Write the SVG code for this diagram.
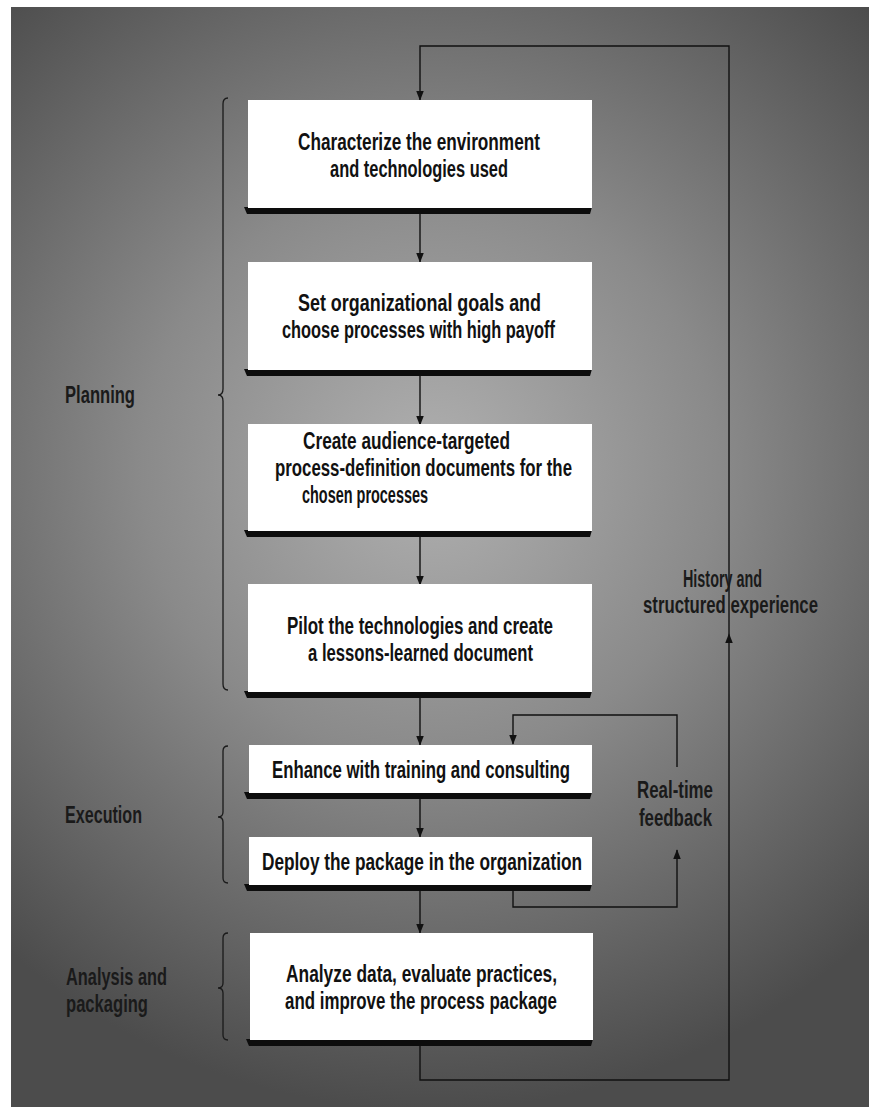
<svg xmlns="http://www.w3.org/2000/svg" width="871" height="1107" viewBox="0 0 871 1107">
<style>
.box{fill:#ffffff}
.sh{fill:#0d0d0d}
.t{font-family:"Liberation Sans",Arial,sans-serif;font-weight:bold;font-size:23px;fill:#111111}
.lbl{font-family:"Liberation Sans",Arial,sans-serif;font-weight:bold;font-size:23px;fill:#1a1a1a}
.ln{stroke:#111111;stroke-width:1.4;fill:none}
.br{stroke:#1a1a1a;stroke-width:1.3;fill:none}
</style>
<defs>
<radialGradient id="bg" cx="430" cy="470" r="640" gradientUnits="userSpaceOnUse">
<stop offset="0" stop-color="#b0b0b0"/>
<stop offset="0.45" stop-color="#8a8a8a"/>
<stop offset="1" stop-color="#4c4c4c"/>
</radialGradient>
<marker id="arr" markerWidth="10" markerHeight="13" refX="12" refY="5" orient="auto" markerUnits="userSpaceOnUse" viewBox="0 0 13 10">
<path d="M0,0 L13,5 L0,10 Z" fill="#111111"/>
</marker>
</defs>
<rect x="0" y="0" width="871" height="1107" fill="#ffffff"/>
<rect x="11" y="7" width="858" height="1100" fill="url(#bg)"/>

<g id="connectors">
<path class="ln" d="M420,1043 V1080 H729 V634" marker-end="url(#arr)"/>
<path class="ln" d="M729,634 V46 H420 V100" marker-end="url(#arr)"/>
<path class="ln" d="M420,213 V262" marker-end="url(#arr)"/>
<path class="ln" d="M420,375 V425" marker-end="url(#arr)"/>
<path class="ln" d="M420,536 V585" marker-end="url(#arr)"/>
<path class="ln" d="M420,697 V745" marker-end="url(#arr)"/>
<path class="ln" d="M420,798 V837" marker-end="url(#arr)"/>
<path class="ln" d="M420,890 V933" marker-end="url(#arr)"/>
<path class="ln" d="M513,890 V907 H677 V850" marker-end="url(#arr)"/>
<path class="ln" d="M677,767 V715 H513 V744" marker-end="url(#arr)"/>
</g>

<g id="brackets">
<path class="br" d="M228,98 Q223,98 223,104 V389 Q223,395 218,395 Q223,395 223,401 V684 Q223,690 228,690"/>
<path class="br" d="M228,746 Q223,746 223,751 V812 Q223,817 218,817 Q223,817 223,822 V878 Q223,883 228,883"/>
<path class="br" d="M228,933 Q223,933 223,938 V983 Q223,988 218,988 Q223,988 223,993 V1035 Q223,1040 228,1040"/>
</g>

<g id="labels">
<text class="lbl" x="65" y="403" textLength="70" lengthAdjust="spacingAndGlyphs">Planning</text>
<text class="lbl" x="65" y="823" textLength="77" lengthAdjust="spacingAndGlyphs">Execution</text>
<text class="lbl" x="66" y="985" textLength="101" lengthAdjust="spacingAndGlyphs">Analysis and</text>
<text class="lbl" x="66" y="1012" textLength="82" lengthAdjust="spacingAndGlyphs">packaging</text>
<text class="lbl" x="637" y="798" textLength="76" lengthAdjust="spacingAndGlyphs">Real-time</text>
<text class="lbl" x="639" y="826" textLength="73" lengthAdjust="spacingAndGlyphs">feedback</text>
<text class="lbl" x="683" y="587" textLength="79" lengthAdjust="spacingAndGlyphs">History and</text>
<text class="lbl" x="643" y="613" textLength="175" lengthAdjust="spacingAndGlyphs">structured experience</text>
</g>

<g id="n1">
<polygon class="sh" points="244,207 592,207 590,214 247,214"/>
<rect class="box" x="248" y="100" width="344" height="108"/>
<text class="t" x="298" y="150" textLength="242" lengthAdjust="spacingAndGlyphs">Characterize the environment</text>
<text class="t" x="330" y="177" textLength="178" lengthAdjust="spacingAndGlyphs">and technologies used</text>
</g>
<g id="n2">
<polygon class="sh" points="244,369 592,369 590,376 247,376"/>
<rect class="box" x="248" y="262" width="344" height="108"/>
<text class="t" x="298" y="311" textLength="243" lengthAdjust="spacingAndGlyphs">Set organizational goals and</text>
<text class="t" x="282" y="338" textLength="273" lengthAdjust="spacingAndGlyphs">choose processes with high payoff</text>
</g>
<g id="n3">
<polygon class="sh" points="244,530 592,530 590,537 247,537"/>
<rect class="box" x="248" y="424" width="344" height="107"/>
<text class="t" x="303" y="449" textLength="207" lengthAdjust="spacingAndGlyphs">Create audience-targeted</text>
<text class="t" x="275" y="476" textLength="297" lengthAdjust="spacingAndGlyphs">process-definition documents for the</text>
<text class="t" x="302" y="503" textLength="126" lengthAdjust="spacingAndGlyphs">chosen processes</text>
</g>
<g id="n4">
<polygon class="sh" points="244,691 592,691 590,698 247,698"/>
<rect class="box" x="248" y="584" width="344" height="108"/>
<text class="t" x="287" y="634" textLength="266" lengthAdjust="spacingAndGlyphs">Pilot the technologies and create</text>
<text class="t" x="308" y="661" textLength="225" lengthAdjust="spacingAndGlyphs">a lessons-learned document</text>
</g>
<g id="n5">
<polygon class="sh" points="244,792 592,792 590,799 247,799"/>
<rect class="box" x="249" y="745" width="343" height="48"/>
<text class="t" x="272" y="778" textLength="298" lengthAdjust="spacingAndGlyphs">Enhance with training and consulting</text>
</g>
<g id="n6">
<polygon class="sh" points="244,884 592,884 590,891 247,891"/>
<rect class="box" x="249" y="837" width="343" height="48"/>
<text class="t" x="262" y="870" textLength="320" lengthAdjust="spacingAndGlyphs">Deploy the package in the organization</text>
</g>
<g id="n7">
<polygon class="sh" points="246,1039 593,1039 591,1046 249,1046"/>
<rect class="box" x="250" y="933" width="343" height="107"/>
<text class="t" x="286" y="982" textLength="271" lengthAdjust="spacingAndGlyphs">Analyze data, evaluate practices,</text>
<text class="t" x="285" y="1009" textLength="272" lengthAdjust="spacingAndGlyphs">and improve the process package</text>
</g>
</svg>
